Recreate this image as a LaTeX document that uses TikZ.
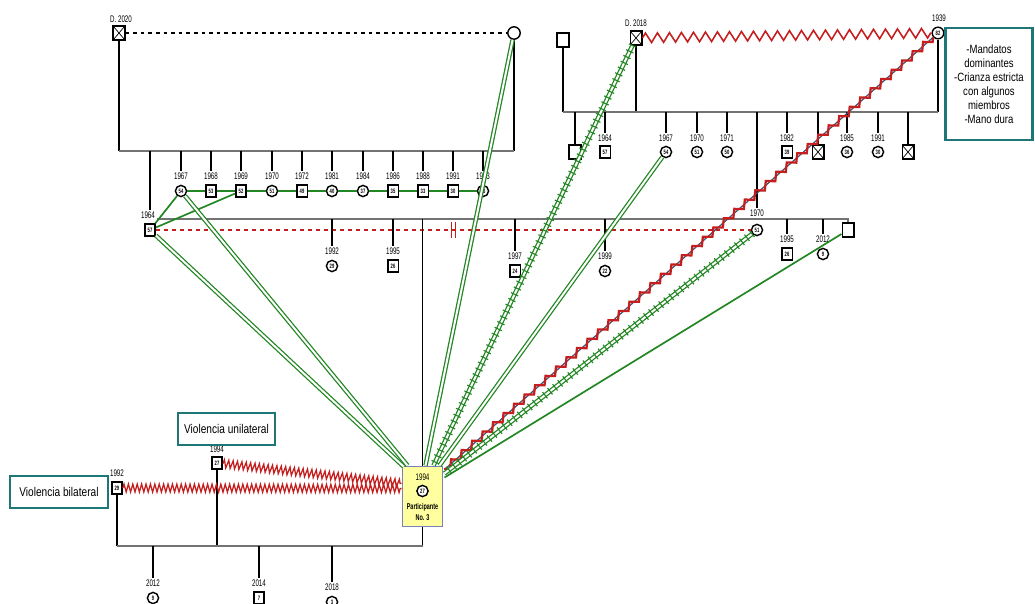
\documentclass[tikz,border=0pt]{standalone}
\usepackage{fontspec}
\setmainfont{Liberation Sans}
\newfontfamily\cnd[FakeStretch=0.65]{Liberation Sans}
\newfontfamily\notefnt[FakeStretch=0.8]{Liberation Sans}
\newcommand\yrfont{\cnd\fontsize{6.8}{7}\selectfont}
\newcommand\agefont{\cnd\bfseries\fontsize{4.5}{4.5}\selectfont}
\usepackage{tikz}
\usetikzlibrary{calc,decorations.pathmorphing,decorations.pathreplacing}
\definecolor{grn}{RGB}{34,134,34}
\definecolor{redz}{RGB}{196,30,30}
\definecolor{tealb}{RGB}{30,118,118}
\definecolor{slateln}{RGB}{70,80,110}
\definecolor{partfill}{RGB}{255,255,160}
\definecolor{partedge}{RGB}{120,130,185}
\tikzset{
  % Person symbols: square = male, circle = female, age inside
  mal/.style={draw, rectangle, fill=white, line width=1pt, minimum width=0.26cm,
              minimum height=0.3cm, inner sep=0pt, font=\agefont},
  fem/.style={draw, circle, fill=white, line width=1pt, minimum size=0.28cm,
              inner sep=0pt, font=\agefont},
  unk/.style={mal, minimum width=0.29cm, minimum height=0.34cm},
  dec/.style={unk, path picture={
      \draw[line width=0.5pt] (path picture bounding box.north west) -- (path picture bounding box.south east)
                              (path picture bounding box.south west) -- (path picture bounding box.north east);}},
  yearlbl/.style={font=\yrfont, inner sep=0.6pt},
  % Participant box
  partbox/.style={draw=partedge, fill=partfill, line width=0.8pt, minimum width=1.02cm, minimum height=1.52cm},
  parttxt/.style={font=\cnd\bfseries\fontsize{6}{7.5}\selectfont, align=center, inner sep=0pt},
  % Note boxes
  notebox/.style={draw=tealb, fill=white, line width=1.8pt, align=center, inner sep=2pt,
                  font=\notefnt\fontsize{9}{10}\selectfont},
  % Family lines
  descln/.style={line width=1pt},
  famline/.style={line width=1.3pt, draw=black!55},
  coupledash/.style={line width=1pt, dash pattern=on 0.09cm off 0.1cm},
  divorceln/.style={draw=redz, line width=1pt, dash pattern=on 0.1cm off 0.1cm},
  divbar/.style={draw=redz, line width=1pt},
  % Emotional relationships
  closeln/.style={draw=grn, line width=0.9pt, double=white, double distance=0.05cm},
  tieln/.style={draw=grn, line width=1.2pt},
  hatchln/.style={draw=grn, line width=0.8pt, decorate,
                  decoration={ticks, segment length=0.16cm, amplitude=0.1cm}},
  conflictln/.style={draw=redz, line width=1.1pt, decorate,
                     decoration={zigzag, segment length=0.3cm, amplitude=0.12cm}},
  violentln/.style={draw=redz, line width=0.9pt, decorate,
                    decoration={zigzag, segment length=0.11cm, amplitude=0.1cm}},
  abusecore/.style={draw=slateln, line width=0.9pt},
  abusezig/.style={draw=redz, line width=1.6pt, decorate,
                   decoration={zigzag, segment length=0.35cm, amplitude=0.08cm}}
}

\begin{document}
\begin{tikzpicture}[x=0.025cm, y=-0.025cm]
\useasboundingbox (0,0) rectangle (1035,604);

% ============== Paternal grandparents ==============
\node[dec] (gfA) at (119,33) {};
\node[yearlbl] at (121,19) {D. 2020};
\node[fem, minimum size=0.31cm] (gmA) at (514,33) {};
\coordinate (famA) at (119,151);
\draw[coupledash] (gfA) -- (gmA);
\draw[descln] (gfA) -- (gfA |- famA);
\draw[descln] (gmA) -- (gmA |- famA);
\draw[famline] (gfA |- famA) -- (gmA |- famA);

% paternal uncles and aunts
\foreach \cx/\yr/\age/\kind [count=\i] in {181/1967/54/fem, 211/1968/53/mal, 241/1969/52/mal,
    272/1970/51/fem, 302/1972/49/mal, 332/1981/40/fem, 363/1984/37/fem, 393/1986/35/mal,
    423/1988/33/mal, 453/1991/30/mal, 483/1993/28/fem}{
  \node[yearlbl] (yA\i) at (\cx,176) {\yr};
  \node[\kind] (kA\i) at (\cx,191) {\age};
  \draw[descln] (yA\i.north |- famA) -- (yA\i.north);
}
\foreach \i [evaluate=\i as \j using int(\i+1)] in {1,...,10}
  \draw[tieln] (kA\i) -- (kA\j);

% father
\node[yearlbl] (fyr) at (148,215) {1964};
\node[mal] (fa) at (150,230) {57};
\draw[descln] (fa |- famA) -- (fa |- fyr.north);

% ============== Maternal grandparents ==============
\node[unk] (gfB0) at (563,40) {};
\node[dec] (gfB) at (636,38) {};
\node[yearlbl] at (636,23) {D. 2018};
\node[fem, minimum size=0.29cm] (gmB) at (938,33) {82};
\node[yearlbl] at (939,18) {1939};
\coordinate (famB) at (563,112);
\draw[descln] (gfB0) -- (gfB0 |- famB);
\draw[descln] (gfB) -- (gfB |- famB);
\draw[descln] (gmB) -- (gmB |- famB);
\draw[famline] (gfB0 |- famB) -- (gmB |- famB);
\draw[conflictln] (gfB) -- (gmB);

% maternal uncles and aunts
\foreach \cx/\yr/\age/\kind [count=\i] in {605/1964/57/mal, 666/1967/54/fem, 697/1970/51/fem,
    727/1971/50/fem, 787/1982/39/mal, 847/1985/36/fem, 878/1991/30/fem}{
  \node[yearlbl] (yB\i) at (\cx,138) {\yr};
  \node[\kind] (kB\i) at (\cx,152) {\age};
  \draw[descln] (yB\i.north |- famB) -- (yB\i.north);
}
\foreach \cx/\nm/\kind in {575/kB0/unk, 818/kBd1/dec, 908/kBd2/dec}{
  \node[\kind] (\nm) at (\cx,152) {};
  \draw[descln] (\nm |- famB) -- (\nm);
}

% Note on the maternal family
\node[notebox, minimum width=2.18cm, minimum height=2.8cm,
      font=\notefnt\fontsize{8.5}{10}\selectfont] (nmand) at (989,84)
  {-Mandatos\\dominantes\\-Crianza estricta\\con algunos\\miembros\\-Mano dura};

% ============== Parents ==============
\node[yearlbl] (myr) at (757,213) {1970};
\node[fem] (mo) at (757,230) {51};
\draw[descln] (mo |- famB) -- (myr.north);
\node[unk] (stepfa) at (848,230) {};
\coordinate (famM) at (157,219);
\draw[famline] (famM) -| (stepfa);
\draw[divorceln] (fa) -- (mo);
\draw[divbar] ($(fa)!0.5!(mo)+(-2,-8)$) -- ++(0,16) ($(fa)!0.5!(mo)+(2,-8)$) -- ++(0,16);

% siblings of the participant
\foreach \cx/\ly/\yr/\age/\kind [count=\i] in {332/251/1992/29/fem, 393/251/1995/26/mal,
    515/256/1997/24/mal, 605/256/1999/22/fem, 787/239/1995/26/mal, 823/239/2012/9/fem}{
  \node[yearlbl] (yM\i) at (\cx,\ly) {\yr};
  \node[\kind] (kM\i) at (\cx,\ly+15) {\age};
  \draw[descln] (yM\i.north |- famM) -- (yM\i.north);
}

% ============== Participant ==============
\node[partbox] (part) at (422.5,496.5) {};
\node[yearlbl] (pyr) at (422.5,477) {1994};
\node[fem] (pself) at (422.5,491) {27};
\node[parttxt] (ptxt) at (422.5,512) {Participante\\No. 3};
\draw[descln] (part.north |- famM) -- (part.north);

% partners and children
\node[yearlbl] (s1yr) at (117,473) {1992};
\node[mal] (sib1) at (117,488) {29};
\node[yearlbl] (s2yr) at (217,449) {1994};
\node[mal] (sib2) at (217,463) {27};
\coordinate (famC) at (117,546);
\draw[descln] (sib1) -- (sib1 |- famC);
\draw[descln] (sib2) -- (sib2 |- famC);
\draw[descln] (part) -- (part |- famC);
\draw[famline] (sib1 |- famC) -- (part |- famC);
\foreach \cx/\ly/\yr/\age/\kind [count=\i] in {153/583/2012/9/fem, 259/583/2014/7/mal, 332/587/2018/3/fem}{
  \node[yearlbl] (yC\i) at (\cx,\ly) {\yr};
  \node[\kind] (kC\i) at (\cx,\ly+15) {\age};
  \draw[descln] (yC\i.north |- famC) -- (yC\i.north);
}

\node[notebox, minimum width=2.45cm, minimum height=0.8cm] (nbil) at (59,492) {Violencia bilateral};
\node[notebox, minimum width=2.43cm, minimum height=0.8cm] (nuni) at (226.5,429) {Violencia unilateral};

% ============== Emotional relationships ==============
\draw[tieln] (kA1) -- (fa);
\draw[tieln] (kA3) -- (fa);
\draw[closeln] (fa) -- ($(part.north west)+(2,1)$);
\draw[closeln] (kA1) -- ($(part.north west)+(6,0)$);
\draw[closeln] (gmA) -- ($(part.north)+(3,0)$);
\draw[closeln] (gfB) -- ($(part.north)+(11,0)$);
\draw[hatchln] (gfB) -- ($(part.north)+(11,0)$);
\draw[closeln] (kB2) -- ($(part.north east)+(-4,0)$);
\draw[abusecore] (gmB) -- ($(part.north east)+(1,4)$);
\draw[abusezig] (gmB) -- ($(part.north east)+(1,4)$);
\draw[closeln] (mo) -- ($(part.north east)+(1,8)$);
\draw[hatchln] (mo) -- ($(part.north east)+(1,8)$);
\draw[tieln] (stepfa) -- ($(part.north east)+(1,12)$);
\draw[violentln] (sib1) -- ($(part.west)+(0,-8)$);
\draw[violentln] (sib2) -- ($(part.west)+(0,-13)$);

\end{tikzpicture}
\end{document}
